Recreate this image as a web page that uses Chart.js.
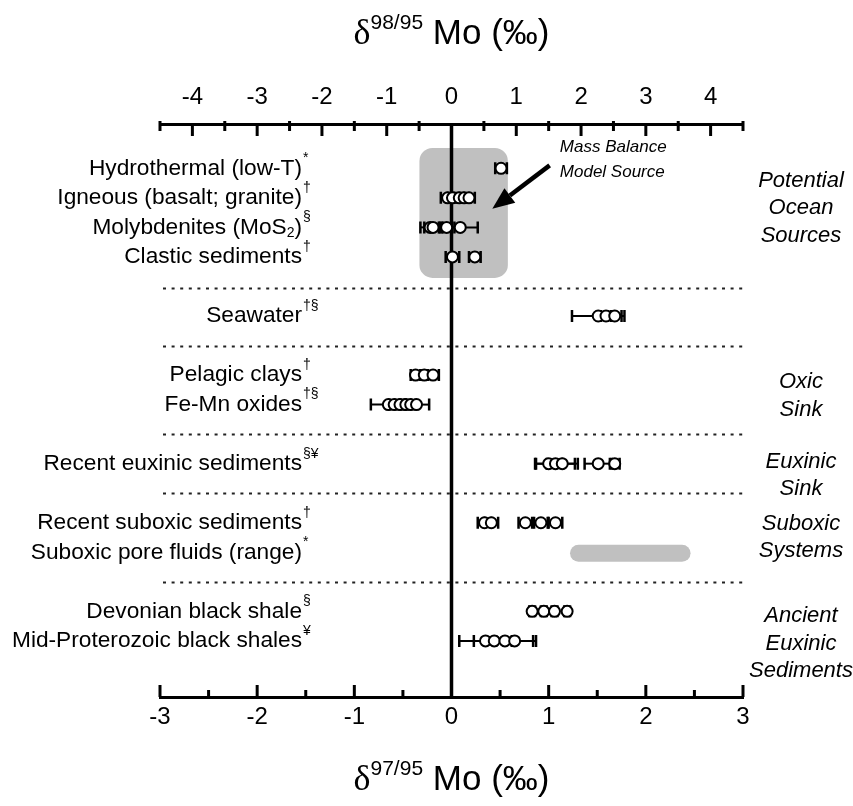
<!DOCTYPE html>
<html><head><meta charset="utf-8">
<script src="https://cdn.jsdelivr.net/npm/chart.js@4/dist/chart.umd.min.js"></script>
<style>html,body{margin:0;padding:0;background:#fff}</style>
</head><body>
<canvas id="c" width="853" height="806"></canvas>
<script>
// ---------------- data ----------------
const rowLabels = ['Hydrothermal (low-T)','Igneous (basalt; granite)','Molybdenites (MoS_{2})','Clastic sediments',
  'Seawater','Pelagic clays','Fe-Mn oxides','Recent euxinic sediments','Recent suboxic sediments',
  'Suboxic pore fluids (range)','Devonian black shale','Mid-Proterozoic black shales'];
const rowNotes = ['*','†','§','†','†§','†','†§','§¥','†','*','§','¥'];
const rowSlots = [1,2,3,4,6,8,9,11,13,14,16,17];
const separatorSlots = [5.05,7,10,12,15];

// δ97/95 Mo values (‰) and 2SD errors per row
const hydrothermal = [0.51];                 const hydrothermalErr = [0.06];
const igneous = [-0.04,0.01,0.08,0.13,0.18]; const igneousErr = [0.07,0.05,0.05,0.05,0.06];
const molybdenites = [-0.22,-0.19,-0.05,0.09]; const molybdenitesErr = [0.10,0.09,0.08,0.18];
const clastic = [0.01,0.24];                 const clasticErr = [0.07,0.06];
const seawater = [1.51,1.59,1.68];           const seawaterErr = [0.27,0.05,0.07];
const pelagicClays = [-0.37,-0.28,-0.19];    const pelagicClaysErr = [0.05,0.04,0.06];
const feMnOxides = [-0.65,-0.59,-0.53,-0.47,-0.42,-0.36]; const feMnOxidesErr = [0.18,0.05,0.05,0.05,0.05,0.13];
const euxinic = [1.00,1.07,1.14,1.51,1.68];  const euxinicErr = [0.14,0.20,0.16,0.14,0.05];
const suboxic = [0.34,0.41,0.76,0.92,1.07];  const suboxicErr = [0.07,0.07,0.07,0.07,0.07];
const poreFluids = [];                       const poreFluidsErr = [];
const poreFluidRange = [1.22,2.46];
const devonian = [0.83,0.95,1.06,1.19];      const devonianErr = [0.03,0.03,0.03,0.03];
const midProterozoic = [0.35,0.44,0.55,0.65]; const midProterozoicErr = [0.27,0.10,0.32,0.19];

const sourceBoxX = [-0.33,0.58];   // mass-balance model source range (δ97)
const sourceBoxSlots = [0.31,4.71];

const groupNames = [['Potential','Ocean','Sources'],['Oxic','Sink'],['Euxinic','Sink'],['Suboxic','Systems'],['Ancient','Euxinic','Sediments']];
const groupSlots = [2.34,8.7,11.4,13.5,17.1];

const bottomTicks = [-3,-2,-1,0,1,2,3];
const topTicks = [-4,-3,-2,-1,0,1,2,3,4];

// ---------------- build ----------------
const rowValues = [hydrothermal,igneous,molybdenites,clastic,seawater,pelagicClays,feMnOxides,euxinic,suboxic,poreFluids,devonian,midProterozoic];
const rowErrors = [hydrothermalErr,igneousErr,molybdenitesErr,clasticErr,seawaterErr,pelagicClaysErr,feMnOxidesErr,euxinicErr,suboxicErr,poreFluidsErr,devonianErr,midProterozoicErr];

const SANS = "'Liberation Sans', Arial, Helvetica, sans-serif";
const SERIF = "'Liberation Serif', 'Times New Roman', serif";
Chart.defaults.font.family = SANS;

const datasets = rowValues.map((vals,i)=>({
  data: vals.map(v=>({x:v,y:rowSlots[i]})),
  pointRadius:5.5, pointHoverRadius:5.5, pointBorderWidth:2,
  pointBackgroundColor:'#fff', pointBorderColor:'#000'
}));

function parseRich(str, big, small, subDy, supDy){
  const segs=[];
  str.split(/(_\{[^}]*\}|\^\{[^}]*\})/).forEach(s=>{
    if(!s) return;
    if(s.startsWith('_{')) segs.push({t:s.slice(2,-1),font:small,dy:subDy});
    else if(s.startsWith('^{')) segs.push({t:s.slice(2,-1),font:small,dy:supDy});
    else segs.push({t:s,font:big,dy:0});
  });
  return segs;
}
function segWidth(ctx,segs){let w=0;segs.forEach(s=>{ctx.font=s.font;w+=ctx.measureText(s.t).width;});return w;}
function drawSegs(ctx,segs,x,y){let cx=x;segs.forEach(s=>{ctx.font=s.font;ctx.fillText(s.t,cx,y+s.dy);cx+=ctx.measureText(s.t).width;});return cx;}
function roundRectPath(ctx,x,y,w,h,r){
  ctx.beginPath();ctx.moveTo(x+r,y);ctx.lineTo(x+w-r,y);ctx.arcTo(x+w,y,x+w,y+r,r);
  ctx.lineTo(x+w,y+h-r);ctx.arcTo(x+w,y+h,x+w-r,y+h,r);ctx.lineTo(x+r,y+h);
  ctx.arcTo(x,y+h,x,y+h-r,r);ctx.lineTo(x,y+r);ctx.arcTo(x,y,x+r,y,r);ctx.closePath();
}

const decor = {
  id:'decor',
  beforeDatasetsDraw(chart){
    const ctx=chart.ctx, xs=chart.scales.x, ys=chart.scales.y, a=chart.chartArea;
    ctx.save();
    // model source box
    const bx1=xs.getPixelForValue(sourceBoxX[0]), bx2=xs.getPixelForValue(sourceBoxX[1]);
    const by1=ys.getPixelForValue(sourceBoxSlots[0]), by2=ys.getPixelForValue(sourceBoxSlots[1]);
    ctx.fillStyle='#c0c0c0'; roundRectPath(ctx,bx1,by1,bx2-bx1,by2-by1,13); ctx.fill();
    // separators
    ctx.strokeStyle='#222'; ctx.lineWidth=2; ctx.setLineDash([3,5.6]);
    separatorSlots.forEach(s=>{const y=Math.round(ys.getPixelForValue(s))+0.5;ctx.beginPath();ctx.moveTo(a.left+3,y);ctx.lineTo(a.right,y);ctx.stroke();});
    ctx.setLineDash([]);
    // zero line
    const x0=xs.getPixelForValue(0);
    ctx.strokeStyle='#000'; ctx.lineWidth=3.5; ctx.beginPath(); ctx.moveTo(x0,a.top); ctx.lineTo(x0,a.bottom); ctx.stroke();
    // pore-fluid range capsule
    const pr=rowSlots[9];
    const cx1=xs.getPixelForValue(poreFluidRange[0]), cx2=xs.getPixelForValue(poreFluidRange[1]), cy=ys.getPixelForValue(pr)+1;
    ctx.fillStyle='#c0c0c0'; roundRectPath(ctx,cx1,cy-8.5,cx2-cx1,17,8.5); ctx.fill();
    // error bars
    ctx.strokeStyle='#000';
    rowValues.forEach((vals,i)=>{
      const y=ys.getPixelForValue(rowSlots[i]);
      vals.forEach((v,j)=>{
        const e=rowErrors[i][j]; const l=xs.getPixelForValue(v-e), r=xs.getPixelForValue(v+e);
        ctx.lineWidth=2; ctx.beginPath(); ctx.moveTo(l,y); ctx.lineTo(r,y); ctx.stroke();
        ctx.lineWidth=2.5; ctx.beginPath(); ctx.moveTo(l,y-6); ctx.lineTo(l,y+6); ctx.moveTo(r,y-6); ctx.lineTo(r,y+6); ctx.stroke();
      });
    });
    ctx.restore();
  },
  afterDraw(chart){
    const ctx=chart.ctx, xs=chart.scales.x, xt=chart.scales.x2, ys=chart.scales.y, a=chart.chartArea;
    ctx.save();
    ctx.strokeStyle='#000'; ctx.lineWidth=3; ctx.lineCap='butt';
    // top axis ticks (inward)
    const tmin=xt.min, tmax=xt.max;
    const topMinor=[tmin,tmax]; topTicks.forEach((v,i)=>{ if(i<topTicks.length-1) topMinor.push((v+topTicks[i+1])/2); });
    topTicks.forEach(v=>{const p=xt.getPixelForValue(v);ctx.beginPath();ctx.moveTo(p,a.top);ctx.lineTo(p,a.top+12);ctx.stroke();});
    topMinor.forEach(v=>{const p=xt.getPixelForValue(v);ctx.beginPath();ctx.moveTo(p,a.top-3);ctx.lineTo(p,a.top+7);ctx.stroke();});
    // bottom axis ticks (inward)
    const botMinor=[]; bottomTicks.forEach((v,i)=>{ if(i<bottomTicks.length-1) botMinor.push((v+bottomTicks[i+1])/2); });
    bottomTicks.forEach(v=>{const p=xs.getPixelForValue(v);ctx.beginPath();ctx.moveTo(p,a.bottom);ctx.lineTo(p,a.bottom-12);ctx.stroke();});
    botMinor.forEach(v=>{const p=xs.getPixelForValue(v);ctx.beginPath();ctx.moveTo(p,a.bottom);ctx.lineTo(p,a.bottom-7);ctx.stroke();});

    ctx.fillStyle='#000';
    // left row labels
    ctx.textBaseline='middle';
    rowLabels.forEach((lab,i)=>{
      const y=ys.getPixelForValue(rowSlots[i]);
      const segs=parseRich(lab,'22.7px '+SANS,'14px '+SANS,6,-9);
      const w=segWidth(ctx,segs);
      const end=drawSegs(ctx,segs,302-w,y);
      ctx.font='14px '+SANS; ctx.fillText(rowNotes[i],end+1,y-10);
    });
    // right group labels
    ctx.textAlign='center'; ctx.font='italic 22px '+SANS;
    groupNames.forEach((lines,g)=>{
      const c=ys.getPixelForValue(groupSlots[g]); const lh=27.5;
      lines.forEach((t,k)=>ctx.fillText(t,801,c+(k-(lines.length-1)/2)*lh));
    });
    // mass balance annotation
    ctx.textAlign='left'; ctx.font='italic 17px '+SANS;
    const mx=xs.getPixelForValue(1.115);
    ctx.fillText('Mass Balance',mx,ys.getPixelForValue(0.28));
    ctx.fillText('Model Source',mx,ys.getPixelForValue(1.12));
    // arrow
    const tx=xs.getPixelForValue(1.01), ty=ys.getPixelForValue(0.9);
    const hx=xs.getPixelForValue(0.42), hy=ys.getPixelForValue(2.37);
    const ang=Math.atan2(hy-ty,hx-tx), L=22, W=9;
    const bxp=hx-L*Math.cos(ang), byp=hy-L*Math.sin(ang);
    ctx.lineWidth=4.5; ctx.beginPath(); ctx.moveTo(tx,ty); ctx.lineTo(bxp,byp); ctx.stroke();
    ctx.beginPath(); ctx.moveTo(hx,hy);
    ctx.lineTo(bxp+W*Math.sin(ang),byp-W*Math.cos(ang));
    ctx.lineTo(bxp-W*Math.sin(ang),byp+W*Math.cos(ang)); ctx.closePath(); ctx.fill();
    // axis titles
    ctx.textBaseline='alphabetic';
    const titleSegs=(iso)=>[{t:'δ',font:'36px '+SERIF,dy:0},{t:iso,font:'21px '+SANS,dy:-15},{t:' Mo (‰)',font:'35px '+SANS,dy:0}];
    const midX=(a.left+a.right)/2;
    [['98/95',44],['97/95',790]].forEach(([iso,base])=>{
      const segs=titleSegs(iso); const w=segWidth(ctx,segs); drawSegs(ctx,segs,midX-w/2,base);
    });
    ctx.restore();
  }
};

const tickFont={size:24};
new Chart(document.getElementById('c'),{
  type:'scatter',
  data:{datasets},
  options:{
    responsive:false, animation:false, events:[],
    layout:{padding:{left:160,right:110,top:0,bottom:0}},
    plugins:{legend:{display:false},tooltip:{enabled:false}},
    scales:{
      x:{type:'linear',position:'bottom',min:-3,max:3,
        afterFit(s){s.height=109;},
        afterBuildTicks(s){s.ticks=bottomTicks.map(v=>({value:v}));},
        ticks:{font:tickFont,color:'#000',padding:6,maxRotation:0,autoSkip:false,callback:v=>String(v)},
        grid:{drawOnChartArea:false,drawTicks:false},
        border:{display:true,color:'#000',width:3}},
      x2:{type:'linear',position:'top',min:-4.5,max:4.5,
        afterFit(s){s.height=124;},
        afterBuildTicks(s){s.ticks=topTicks.map(v=>({value:v}));},
        ticks:{font:tickFont,color:'#000',padding:12,maxRotation:0,autoSkip:false,callback:v=>String(v)},
        grid:{drawOnChartArea:false,drawTicks:false},
        border:{display:true,color:'#000',width:3}},
      y:{type:'linear',min:-0.5,max:18.9,reverse:true,display:false}
    }
  },
  plugins:[decor]
});
</script>
</body></html>
